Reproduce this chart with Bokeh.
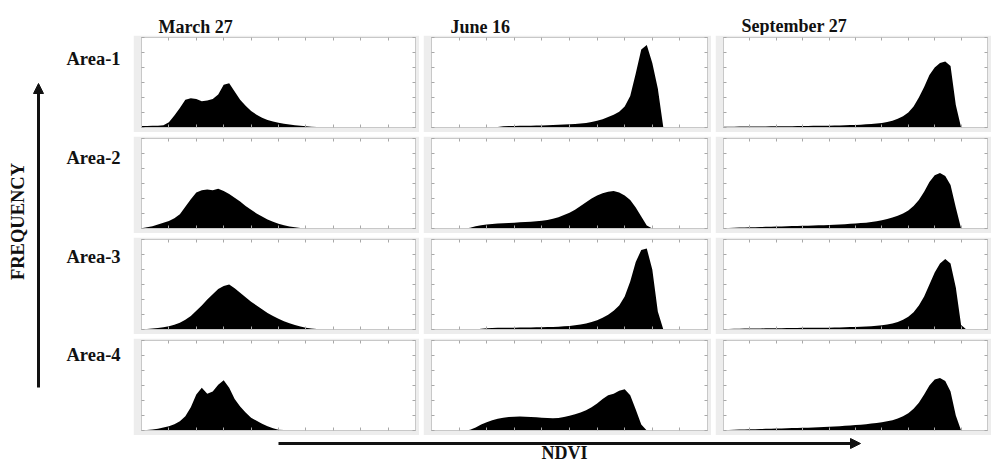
import math
from bokeh.plotting import figure
from bokeh.layouts import row, column
from bokeh.models import (Range1d, Label, Arrow, NormalHead, FixedTicker,
                          CustomJSTickFormatter, LinearAxis)
from bokeh.embed import file_html
from bokeh.resources import INLINE

# ---------------- data ----------------
dates = ["March 27", "June 16", "September 27"]
areas = ["Area-1", "Area-2", "Area-3", "Area-4"]
x_label = "NDVI"
y_label = "FREQUENCY"

# NDVI bin positions (0.00 .. 1.00 step 0.02)
ndvi_bins = [round(i * 0.02, 2) for i in range(51)]
x_ticks = [round(i * 0.1, 1) for i in range(11)]
y_ticks = [0, 1, 2, 3, 4, 5, 6]

march_area1 = [0.10, 0.10, 0.11, 0.12, 0.15, 0.35, 0.80, 1.30, 1.85, 1.95,
               1.90, 1.75, 1.80, 1.90, 2.20, 2.85, 2.95, 2.40, 1.85, 1.45,
               1.10, 0.85, 0.65, 0.50, 0.40, 0.32, 0.25, 0.20, 0.15, 0.11,
               0.08, 0.05, 0.03, 0.02, 0.00, 0, 0, 0, 0, 0,
               0, 0, 0, 0, 0, 0, 0, 0, 0, 0, 0]
march_area2 = [0.02, 0.08, 0.15, 0.27, 0.38, 0.50, 0.68, 0.95, 1.45, 1.95,
               2.40, 2.55, 2.60, 2.55, 2.65, 2.50, 2.30, 2.05, 1.80, 1.50,
               1.25, 1.00, 0.80, 0.60, 0.45, 0.32, 0.22, 0.14, 0.08, 0.04,
               0.01, 0, 0, 0, 0, 0, 0, 0, 0, 0,
               0, 0, 0, 0, 0, 0, 0, 0, 0, 0, 0]
march_area3 = [0.02, 0.04, 0.06, 0.10, 0.15, 0.22, 0.32, 0.45, 0.65, 0.90,
               1.25, 1.60, 2.00, 2.35, 2.70, 2.90, 3.00, 2.75, 2.45, 2.15,
               1.85, 1.60, 1.35, 1.10, 0.90, 0.72, 0.55, 0.42, 0.30, 0.20,
               0.12, 0.07, 0.04, 0.02, 0, 0, 0, 0, 0, 0,
               0, 0, 0, 0, 0, 0, 0, 0, 0, 0, 0]
march_area4 = [0.02, 0.04, 0.07, 0.12, 0.20, 0.28, 0.42, 0.62, 0.95, 1.55,
               2.40, 2.85, 2.45, 2.60, 3.05, 3.35, 2.85, 2.10, 1.60, 1.20,
               0.85, 0.65, 0.45, 0.28, 0.15, 0.05, 0.03, 0.02, 0.01, 0,
               0, 0, 0, 0, 0, 0, 0, 0, 0, 0,
               0, 0, 0, 0, 0, 0, 0, 0, 0, 0, 0]

june_area1 = [0, 0, 0, 0, 0, 0, 0, 0, 0, 0,
              0, 0, 0.03, 0.08, 0.10, 0.10, 0.11, 0.12, 0.12, 0.13,
              0.14, 0.15, 0.16, 0.18, 0.20, 0.22, 0.24, 0.26, 0.30, 0.36,
              0.45, 0.55, 0.70, 0.85, 1.05, 1.40, 2.10, 3.60, 5.20, 5.50,
              4.30, 2.60, 0, 0, 0, 0, 0, 0, 0, 0, 0]
june_area2 = [0, 0, 0, 0, 0, 0, 0, 0.05, 0.15, 0.22,
              0.27, 0.30, 0.33, 0.35, 0.37, 0.39, 0.41, 0.43, 0.45, 0.48,
              0.52, 0.57, 0.65, 0.75, 0.90, 1.05, 1.25, 1.50, 1.75, 2.00,
              2.20, 2.35, 2.45, 2.50, 2.40, 2.20, 1.90, 1.40, 0.80, 0.20,
              0, 0, 0, 0, 0, 0, 0, 0, 0, 0, 0]
june_area3 = [0, 0, 0, 0, 0, 0, 0, 0, 0, 0.05,
              0.08, 0.10, 0.11, 0.11, 0.12, 0.12, 0.13, 0.13, 0.14, 0.15,
              0.15, 0.16, 0.17, 0.19, 0.21, 0.24, 0.28, 0.33, 0.40, 0.50,
              0.62, 0.78, 0.98, 1.25, 1.60, 2.20, 3.20, 4.50, 5.30, 5.40,
              4.00, 1.20, 0, 0, 0, 0, 0, 0, 0, 0, 0]
june_area4 = [0, 0, 0, 0, 0, 0, 0, 0.05, 0.20, 0.40,
              0.55, 0.68, 0.78, 0.85, 0.90, 0.92, 0.93, 0.92, 0.90, 0.88,
              0.85, 0.83, 0.82, 0.84, 0.90, 0.98, 1.08, 1.20, 1.35, 1.55,
              1.80, 2.10, 2.35, 2.45, 2.65, 2.75, 2.35, 1.40, 0.40, 0,
              0, 0, 0, 0, 0, 0, 0, 0, 0, 0, 0]

sept_area1 = [0.05, 0.05, 0.05, 0.06, 0.06, 0.06, 0.07, 0.07, 0.07, 0.08,
              0.08, 0.08, 0.09, 0.09, 0.10, 0.10, 0.10, 0.11, 0.11, 0.12,
              0.12, 0.13, 0.14, 0.15, 0.16, 0.17, 0.19, 0.21, 0.23, 0.26,
              0.30, 0.36, 0.45, 0.58, 0.75, 1.00, 1.40, 2.00, 2.70, 3.50,
              4.00, 4.30, 4.40, 4.10, 1.50, 0, 0, 0, 0, 0, 0]
sept_area2 = [0.03, 0.04, 0.05, 0.06, 0.07, 0.08, 0.09, 0.10, 0.11, 0.12,
              0.13, 0.14, 0.15, 0.16, 0.17, 0.18, 0.19, 0.20, 0.21, 0.22,
              0.24, 0.25, 0.27, 0.29, 0.31, 0.33, 0.36, 0.39, 0.43, 0.48,
              0.55, 0.63, 0.73, 0.85, 1.00, 1.20, 1.50, 1.90, 2.45, 3.10,
              3.55, 3.70, 3.50, 2.90, 1.40, 0, 0, 0, 0, 0, 0]
sept_area3 = [0.04, 0.04, 0.05, 0.05, 0.06, 0.06, 0.07, 0.07, 0.08, 0.08,
              0.09, 0.09, 0.10, 0.10, 0.10, 0.11, 0.11, 0.12, 0.12, 0.12,
              0.12, 0.13, 0.14, 0.15, 0.16, 0.17, 0.18, 0.20, 0.22, 0.25,
              0.28, 0.33, 0.40, 0.50, 0.65, 0.85, 1.15, 1.60, 2.20, 3.00,
              3.80, 4.40, 4.70, 4.40, 2.80, 0.30, 0, 0, 0, 0, 0]
sept_area4 = [0.03, 0.04, 0.05, 0.06, 0.07, 0.08, 0.09, 0.10, 0.11, 0.12,
              0.13, 0.14, 0.15, 0.16, 0.17, 0.18, 0.19, 0.20, 0.22, 0.23,
              0.25, 0.27, 0.29, 0.31, 0.33, 0.36, 0.39, 0.42, 0.46, 0.50,
              0.55, 0.61, 0.68, 0.80, 0.95, 1.15, 1.45, 1.85, 2.40, 3.00,
              3.40, 3.50, 3.30, 2.60, 1.00, 0, 0, 0, 0, 0, 0]

grid_data = [
    [march_area1, june_area1, sept_area1],
    [march_area2, june_area2, sept_area2],
    [march_area3, june_area3, sept_area3],
    [march_area4, june_area4, sept_area4],
]

# ---------------- styling / layout ----------------
FONT = "Liberation Serif"
TXT = "#111111"
PANEL_W = [286, 288, 276]
PANEL_H = 97
GAP = 4
LEFT_W = 133
TOP_H = 35
BOT_H = 28
TOTAL_W = LEFT_W + sum(PANEL_W) + 2 * GAP      # 991
MID_H = 4 * PANEL_H + 3 * GAP                    # 400

blank = CustomJSTickFormatter(code="return ''")


def style_axis(ax):
    ax.formatter = blank
    ax.major_tick_in = 3
    ax.major_tick_out = 0
    ax.major_label_standoff = 0
    ax.minor_tick_line_color = None
    ax.major_tick_line_color = "#a8a8a8"
    ax.axis_line_color = "#c8c8c8"


def make_panel(vals, w):
    p = figure(width=w, height=PANEL_H, x_range=Range1d(0, 1), y_range=Range1d(0, 6),
               output_backend="svg", toolbar_location=None,
               min_border_left=8, min_border_right=4, min_border_top=2,
               min_border_bottom=5, background_fill_color="white",
               border_fill_color="#ededed", outline_line_color="#c8c8c8")
    p.varea(x=ndvi_bins, y1=0, y2=vals, fill_color="black")
    p.grid.visible = False
    p.xaxis.ticker = FixedTicker(ticks=x_ticks)
    p.yaxis.ticker = FixedTicker(ticks=y_ticks)
    style_axis(p.xaxis[0])
    style_axis(p.yaxis[0])
    top_ax = LinearAxis(ticker=FixedTicker(ticks=x_ticks))
    right_ax = LinearAxis(ticker=FixedTicker(ticks=y_ticks))
    style_axis(top_ax)
    style_axis(right_ax)
    p.add_layout(top_ax, "above")
    p.add_layout(right_ax, "right")
    return p


def make_canvas(w, h):
    p = figure(width=w, height=h, x_range=Range1d(0, w), y_range=Range1d(0, h),
               output_backend="svg", toolbar_location=None,
               min_border=0, outline_line_color=None,
               background_fill_color="white", border_fill_color="white")
    p.axis.visible = False
    p.grid.visible = False
    return p


# top strip with column titles
top = make_canvas(TOTAL_W, TOP_H)
title_x = [158, 450, 741]
title_y = [9, 9, 10]
for t, tx, ty in zip(dates, title_x, title_y):
    top.add_layout(Label(x=tx, y=ty, text=t, text_font=FONT, text_font_style="bold",
                         text_font_size="18px", text_color=TXT,
                         text_baseline="alphabetic", text_align="left"))

# left strip with row labels and FREQUENCY arrow
left = make_canvas(LEFT_W, MID_H)
label_y = [377, 278, 179, 81]
for a, ly in zip(areas, label_y):
    left.add_layout(Label(x=66, y=ly, text=a, text_font=FONT, text_font_style="bold",
                          text_font_size="18.5px", text_color=TXT,
                          text_baseline="alphabetic", text_align="left"))
left.add_layout(Arrow(end=NormalHead(size=10, fill_color=TXT, line_color=TXT),
                      x_start=38, y_start=48, x_end=38, y_end=352,
                      line_width=3, line_color=TXT))
left.add_layout(Label(x=17, y=214, text=y_label, angle=math.pi / 2,
                      text_font=FONT, text_font_style="bold", text_font_size="18.5px",
                      text_color=TXT, text_align="center", text_baseline="middle"))

# grid of histograms
rows = []
for r in range(4):
    rows.append(row([make_panel(grid_data[r][c], PANEL_W[c]) for c in range(3)],
                    spacing=GAP))
grid = column(rows, spacing=GAP)

# bottom strip with NDVI arrow
bottom = make_canvas(TOTAL_W, BOT_H)
bottom.add_layout(Arrow(end=NormalHead(size=10, fill_color=TXT, line_color=TXT),
                        x_start=278, y_start=20, x_end=860, y_end=20,
                        line_width=3, line_color=TXT))
bottom.add_layout(Label(x=564, y=1, text=x_label, text_font=FONT,
                        text_font_style="bold", text_font_size="18px",
                        text_color=TXT, text_align="center",
                        text_baseline="bottom"))

layout = column(top, row(left, grid, spacing=0), bottom, spacing=0)

open("out.html", "w").write(file_html(layout, INLINE, title="NDVI histograms"))
